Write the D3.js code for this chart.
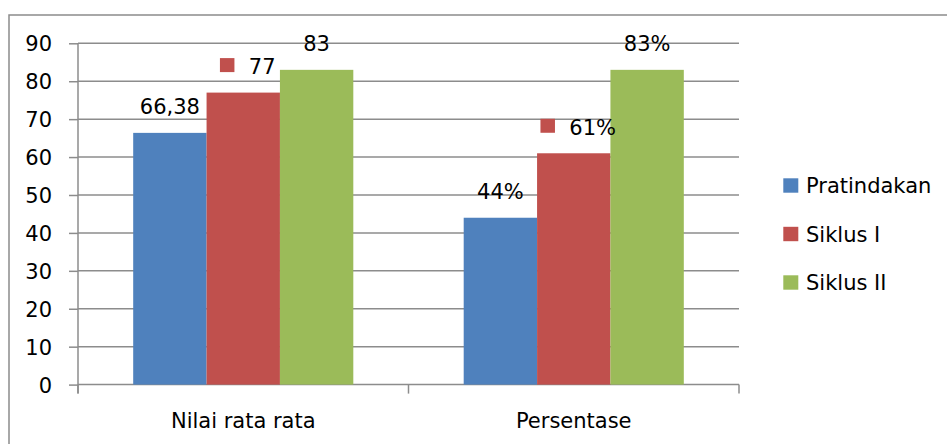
<!DOCTYPE html>
<html>
<head>
<meta charset="utf-8">
<script src="https://cdn.jsdelivr.net/npm/d3@7"></script>
<style>
  body { margin: 0; background: #fff; }
  svg { display: block; }
  text { font-family: "DejaVu Sans", sans-serif; fill: #000; }
</style>
</head>
<body>
<svg id="chart" width="947" height="444"></svg>
<script>
var categories = ["Nilai rata rata", "Persentase"];
var seriesNames = ["Pratindakan", "Siklus I", "Siklus II"];
var pratindakan = [66.38, 44];
var siklus1 = [77, 61];
var siklus2 = [83, 83];
var valueLabels = [["66,38", "44%"], ["77", "61%"], ["83", "83%"]];
var yTicks = [0, 10, 20, 30, 40, 50, 60, 70, 80, 90];
var colors = ["#4f81bd", "#c0504d", "#9bbb59"];

var series = [pratindakan, siklus1, siklus2];
var fontSize = "21px";
var gridColor = "#8c8c8c";

var svg = d3.select("#chart");
var margin = { top: 43.3, left: 78, right: 208, bottom: 59.4 };
var width = 947 - margin.left - margin.right;
var height = 444 - margin.top - margin.bottom;

// outer frame
svg.append("rect")
  .attr("x", 9).attr("y", 15)
  .attr("width", 960).attr("height", 460)
  .style("fill", "none").style("stroke", gridColor).style("stroke-width", 1.5);

var g = svg.append("g").attr("transform", "translate(" + margin.left + "," + margin.top + ")");

var x0 = d3.scaleBand().domain(categories).range([0, width])
  .paddingInner(0.334).paddingOuter(0.167);
var x1 = d3.scaleBand().domain(d3.range(seriesNames.length)).range([0, x0.bandwidth()]);
var y = d3.scaleLinear().domain([0, 90]).range([height, 0]);

// gridlines
g.append("g").selectAll("line").data(yTicks.filter(function (d) { return d > 0; }))
  .enter().append("line")
  .attr("x1", 0).attr("x2", width)
  .attr("y1", function (d) { return y(d); })
  .attr("y2", function (d) { return y(d); })
  .style("stroke", gridColor).style("stroke-width", 1.5);

// y axis
var yAxis = g.append("g")
  .call(d3.axisLeft(y).tickValues(yTicks).tickSize(9).tickPadding(17));
yAxis.select(".domain").style("stroke", gridColor).style("stroke-width", 1.5)
  .attr("d", "M0," + (height + 9) + "V0");
yAxis.selectAll(".tick line").style("stroke", gridColor).style("stroke-width", 1.5);
yAxis.selectAll(".tick text")
  .style("font-size", fontSize).style("font-family", '"DejaVu Sans", sans-serif')
  .attr("dy", "0.36em").attr("fill", "#000");

// x axis
var xAxisG = g.append("g").attr("transform", "translate(0," + height + ")");
xAxisG.append("line").attr("x1", 0).attr("x2", width).attr("y1", 0).attr("y2", 0)
  .style("stroke", gridColor).style("stroke-width", 1.5);
xAxisG.selectAll("line.tk").data([0, 1, 2]).enter().append("line")
  .attr("class", "tk")
  .attr("x1", function (d) { return d * x0.step(); })
  .attr("x2", function (d) { return d * x0.step(); })
  .attr("y1", 0).attr("y2", 9)
  .style("stroke", gridColor).style("stroke-width", 1.5);
xAxisG.selectAll("text").data(categories).enter().append("text")
  .attr("x", function (d) { return x0(d) + x0.bandwidth() / 2; })
  .attr("y", 43.5)
  .style("text-anchor", "middle").style("font-size", fontSize)
  .text(function (d) { return d; });

// bars
for (let s = 0; s < series.length; s++) {
  g.append("g").selectAll("rect").data(categories).enter().append("rect")
    .attr("x", function (d) { return x0(d) + x1(s); })
    .attr("y", function (d, i) { return y(series[s][i]); })
    .attr("width", x1.bandwidth())
    .attr("height", function (d, i) { return height - y(series[s][i]); })
    .style("fill", colors[s]);
}

// data labels
var labels = g.append("g");
for (let s = 0; s < series.length; s++) {
  for (let i = 0; i < categories.length; i++) {
    var cx = x0(categories[i]) + x1(s) + x1.bandwidth() / 2;
    var base = y(series[s][i]) - 18.5;
    if (s === 1) {
      // Siklus I labels carry a legend key in front of the value
      var keyW = 14.5, gap = 14.4;
      var lbl = labels.append("text").attr("y", base)
        .style("text-anchor", "start").style("font-size", fontSize)
        .text(valueLabels[s][i]);
      var tw = lbl.node().getComputedTextLength();
      var left = cx + 4.5 - (keyW + gap + tw) / 2;
      labels.append("rect").attr("x", left).attr("y", base - 16)
        .attr("width", keyW).attr("height", 14).style("fill", colors[s]);
      lbl.attr("x", left + keyW + gap);
    } else {
      labels.append("text").attr("x", cx).attr("y", base)
        .style("text-anchor", "middle").style("font-size", fontSize)
        .text(valueLabels[s][i]);
    }
  }
}

// legend
var legend = svg.append("g").attr("transform", "translate(783.3,193.3)");
seriesNames.forEach(function (name, i) {
  var row = legend.append("g").attr("transform", "translate(0," + (i * 48.5) + ")");
  row.append("rect").attr("x", 0).attr("y", -15).attr("width", 15).attr("height", 14.4)
    .style("fill", colors[i]);
  row.append("text").attr("x", 22.7).attr("y", 0)
    .style("font-size", fontSize).text(name);
});
</script>
</body>
</html>
